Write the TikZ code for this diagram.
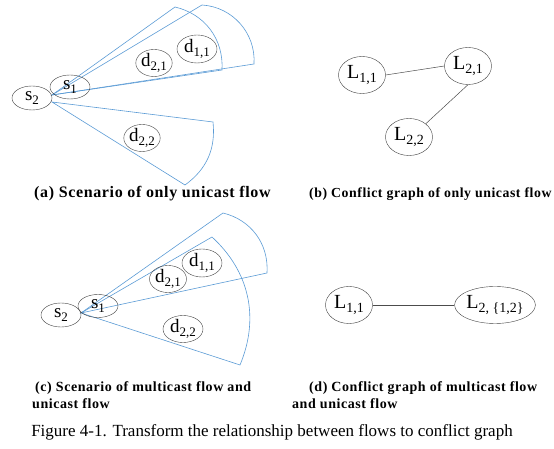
\documentclass[tikz,border=0pt]{standalone}
\usepackage{fontspec}
\setmainfont{Liberation Serif}
\usetikzlibrary{shapes.geometric}
\definecolor{rangeblue}{RGB}{91,155,213}
% lowered index after a node letter
\newcommand{\lsub}[2][13]{\raisebox{-0.45ex}{\fontsize{#1}{#1}\selectfont #2}}

\begin{document}
\begin{tikzpicture}[x=1pt, y=1pt,
    host/.style={draw=black!75, ellipse, inner sep=0pt, minimum width=40pt,
        minimum height=24pt, font=\fontsize{19}{19}\selectfont},
    flowlink/.style={draw=black!75, ellipse, inner sep=0pt, minimum width=47pt,
        minimum height=37pt, font=\fontsize{20}{20}\selectfont},
    coverage/.style={draw=rangeblue, line width=0.6pt},
    conflict/.style={draw=black!70, line width=0.5pt},
    subcap/.style={anchor=west, inner sep=0pt,
        font=\fontsize{#1}{#1}\selectfont\bfseries\addfontfeature{LetterSpace=4}},
    subcap/.default=14]
    \useasboundingbox (0,0) rectangle (554,449);

    % (a) unicast only
    \coordinate (aup) at (52,354);
    \coordinate (alow) at (52,347);
    \draw[coverage] (aup) -- (175,442) to[bend left=40] (222,379) -- cycle;
    \draw[coverage] (aup) -- (202,444) to[bend left=45] (254,385) -- cycle;
    \draw[coverage] (alow) -- (213,327) to[bend left=30] (185,264) -- cycle;
    \node[host] (as2) at (32,351) {s\lsub{2}};
    \node[host] (as1) at (70,362) {s\lsub{1}};
    \node[host, minimum width=35pt, minimum height=25pt] (ad21) at (154,386) {d\lsub{2,1}};
    \node[host, minimum height=28pt] (ad11) at (197,400) {d\lsub{1,1}};
    \node[host, minimum width=36pt] (ad22) at (142,311) {d\lsub{2,2}};
    \node[subcap=16] (acap) at (34,255) {(a) Scenario of only unicast flow};

    % (b) conflict graph, unicast only
    \node[flowlink] (bl11) at (362,374) {L\lsub[14]{1,1}};
    \node[flowlink] (bl21) at (468,383) {L\lsub[14]{2,1}};
    \node[flowlink] (bl22) at (409,312) {L\lsub[14]{2,2}};
    \draw[conflict] (bl11.east) -- (bl21.west);
    \draw[conflict] (bl21.south) -- (bl22.north east);
    \node[subcap=13.8] (bcap) at (309,255) {(b) Conflict graph of only unicast flow};

    % (c) multicast and unicast
    \coordinate (capex) at (81,136);
    \draw[coverage] (capex) -- (223,236) to[bend left=40] (267,176) -- cycle;
    \draw[coverage] (capex) -- (212,212) to[bend left=35] (240,84) -- cycle;
    \node[host] (cs2) at (61,134) {s\lsub{2}};
    \node[host, minimum height=23pt] (cs1) at (98,143) {s\lsub{1}};
    \node[host, minimum width=37pt, minimum height=25pt] (cd21) at (168,170) {d\lsub{2,1}};
    \node[host, minimum height=28pt] (cd11) at (202,186) {d\lsub{1,1}};
    \node[host, minimum height=25pt] (cd22) at (183,120) {d\lsub{2,2}};
    \node[subcap] (ccap) at (35,61) {(c) Scenario of multicast flow and};
    \node[subcap] (ccap2) at (32,45) {unicast flow};

    % (d) conflict graph, multicast and unicast
    \node[flowlink] (dl11) at (349,144) {L\lsub[14]{1,1}};
    \node[flowlink, minimum width=63pt] (dl2) at (495,144) {L\lsub[14]{2, \{1,2\}}};
    \draw[conflict] (dl11.east) -- (dl2.west);
    \node[subcap] (dcap) at (309,61) {(d) Conflict graph of multicast flow};
    \node[subcap] (dcap2) at (292,45) {and unicast flow};

    \node[font=\fontsize{17}{17}\selectfont] (caption) at (272,17)
        {Figure 4-1. Transform the relationship between flows to conflict graph};
\end{tikzpicture}
\end{document}
